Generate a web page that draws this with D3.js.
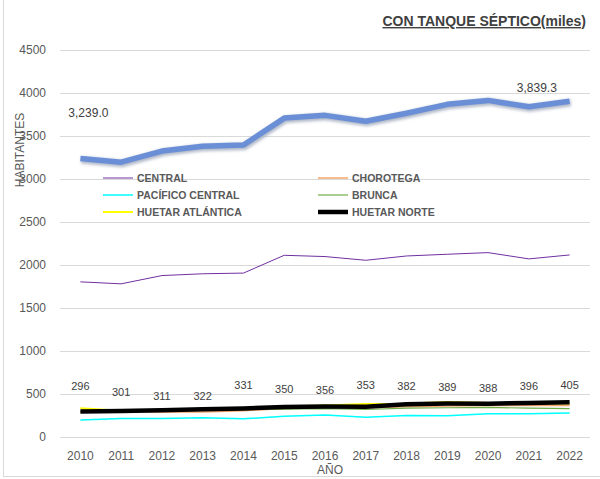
<!DOCTYPE html>
<html>
<head>
<meta charset="utf-8">
<script src="https://cdn.jsdelivr.net/npm/d3@7"></script>
<style>
  body { margin: 0; background: #fff; }
  text { font-family: "Liberation Sans", Arial, sans-serif; }
</style>
</head>
<body>
<div id="chart"></div>
<script>
var years = ["2010","2011","2012","2013","2014","2015","2016","2017","2018","2019","2020","2021","2022"];
var yTicks = [0, 500, 1000, 1500, 2000, 2500, 3000, 3500, 4000, 4500];

// totales (linea azul gruesa)
var total = [3239.0, 3196, 3325, 3382, 3395, 3708, 3740, 3672, 3765, 3868, 3914, 3839.3, 3905];
var central = [1804, 1781, 1877, 1898, 1906, 2113, 2098, 2055, 2105, 2125, 2144, 2071, 2117];
var chorotega = [290, 295, 292, 292, 305, 330, 345, 340, 352, 360, 365, 365, 365];
var pacificoCentral = [199, 214, 214, 224, 211, 241, 257, 230, 249, 246, 269, 269, 280];
var brunca = [295, 300, 305, 310, 318, 325, 330, 320, 335, 340, 345, 335, 330];
var huetarAtlantica = [335, 305, 310, 320, 335, 355, 365, 385, 388, 408, 395, 390, 390];
var huetarNorte = [296, 301, 311, 322, 331, 350, 356, 353, 382, 389, 388, 396, 405];

var series = [
  { name: "CENTRAL", values: central, color: "#7030a0", width: 1 },
  { name: "CHOROTEGA", values: chorotega, color: "#f4a46b", width: 1.5 },
  { name: "PACÍFICO CENTRAL", values: pacificoCentral, color: "#00ffff", width: 1.5 },
  { name: "BRUNCA", values: brunca, color: "#70ad47", width: 1.2 },
  { name: "HUETAR ATLÁNTICA", values: huetarAtlantica, color: "#ffff00", width: 2 },
  { name: "HUETAR NORTE", values: huetarNorte, color: "#000000", width: 4.5 }
];

var width = 600, height = 479;
var svg = d3.select("#chart").append("svg").attr("width", width).attr("height", height);

svg.append("rect").attr("x", 3.5).attr("y", -2).attr("width", 600).attr("height", 478.5)
  .attr("fill", "#fff").attr("stroke", "#d9d9d9");

var x = d3.scaleBand().domain(years).range([60, 590]);
var y = d3.scaleLinear().domain([0, 4500]).range([437, 50]);
var cx = function(d, i) { return x(years[i]) + x.bandwidth() / 2; };

// grid
svg.append("g").selectAll("line").data(yTicks).enter().append("line")
  .attr("x1", 60).attr("x2", 590)
  .attr("y1", function(d) { return Math.round(y(d)) + 0.5; })
  .attr("y2", function(d) { return Math.round(y(d)) + 0.5; })
  .attr("stroke", "#d9d9d9").attr("stroke-width", 1);

// y labels
var yAxis = d3.axisLeft(y).tickValues(yTicks).tickFormat(d3.format("d")).tickSize(0).tickPadding(0);
var gy = svg.append("g").attr("transform", "translate(46,0)").call(yAxis);
gy.select(".domain").remove();
gy.selectAll("text").attr("fill", "#595959").style("font-size", "12px").attr("x", 0);

// x labels
var xAxis = d3.axisBottom(x).tickSize(0).tickPadding(0);
var gx = svg.append("g").attr("transform", "translate(0,451)").call(xAxis);
gx.select(".domain").remove();
gx.selectAll("text").attr("fill", "#595959").style("font-size", "12px");

svg.append("text").attr("x", 330).attr("y", 474).attr("text-anchor", "middle")
  .attr("fill", "#595959").style("font-size", "12px").text("AÑO");

svg.append("text").attr("transform", "translate(24,150) rotate(-90)").attr("text-anchor", "middle")
  .attr("fill", "#595959").style("font-size", "12px").text("HABITANTES");

// title
svg.append("text").attr("x", 586).attr("y", 26).attr("text-anchor", "end")
  .attr("fill", "#404040").style("font-size", "14px").style("font-weight", "bold")
  .style("text-decoration", "underline").text("CON TANQUE SÉPTICO(miles)");

var line = d3.line().x(cx).y(function(d) { return y(d); });

// total line with soft shadow
var defs = svg.append("defs");
var f = defs.append("filter").attr("id", "sh").attr("x", "-10%").attr("y", "-50%").attr("width", "120%").attr("height", "200%");
f.append("feGaussianBlur").attr("stdDeviation", 1.5);
svg.append("path").datum(total).attr("d", line).attr("fill", "none")
  .attr("stroke", "#b0b8c8").attr("stroke-width", 7).attr("filter", "url(#sh)")
  .attr("transform", "translate(1,1.5)");
svg.append("path").datum(total).attr("d", line).attr("fill", "none")
  .attr("stroke", "#6a8fd6").attr("stroke-width", 5.5).attr("stroke-linejoin", "round");

svg.append("g").selectAll("path").data(series).enter().append("path")
  .attr("d", function(s) { return line(s.values); })
  .attr("fill", "none")
  .attr("stroke", function(s) { return s.color; })
  .attr("stroke-width", function(s) { return s.width; })
  .attr("stroke-linejoin", "round");

// total labels
svg.append("text").attr("x", cx(0, 0) + 8).attr("y", 117).attr("text-anchor", "middle")
  .attr("fill", "#404040").style("font-size", "12px").text(d3.format(",.1f")(total[0]));
svg.append("text").attr("x", cx(0, 11) + 8).attr("y", 92).attr("text-anchor", "middle")
  .attr("fill", "#404040").style("font-size", "12px").text(d3.format(",.1f")(total[11]));

// huetar norte labels (pixel lift above point)
var lift = [26, 19, 14, 13, 24, 18, 16, 22, 18, 17, 16, 17, 17];
svg.append("g").selectAll("text").data(huetarNorte).enter().append("text")
  .attr("x", cx)
  .attr("y", function(d, i) { return y(d) - lift[i] + 4; })
  .attr("text-anchor", "middle").attr("fill", "#404040").style("font-size", "11px")
  .text(function(d) { return d; });

// legend
var lg = svg.append("g").selectAll("g").data(series).enter().append("g")
  .attr("transform", function(s, i) {
    return "translate(" + (i % 2 === 0 ? 103 : 318) + "," + (178 + Math.floor(i / 2) * 17) + ")";
  });
lg.append("line").attr("x1", 0).attr("x2", 30).attr("y1", 0).attr("y2", 0)
  .attr("stroke", function(s) { return s.color; })
  .attr("stroke-width", function(s) { return s.width; });
lg.append("text").attr("x", 34).attr("y", 4).attr("fill", "#595959")
  .style("font-size", "10.5px").style("font-weight", "bold")
  .text(function(s) { return s.name; });
</script>
</body>
</html>
